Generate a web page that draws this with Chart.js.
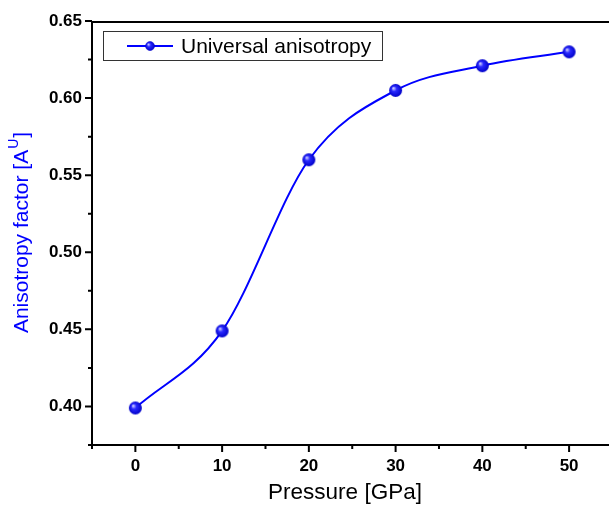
<!DOCTYPE html>
<html>
<head>
<meta charset="utf-8">
<script src="https://cdn.jsdelivr.net/npm/chart.js@4/dist/chart.umd.min.js"></script>
<style>
  html, body { margin: 0; padding: 0; background: #fff; overflow: hidden; }
  #wrap { width: 609px; height: 507px; position: relative; }
  #grafico { display: block; }
</style>
</head>
<body>
<div id="wrap"><canvas id="grafico"></canvas></div>
<script>
const pressure = [0, 10, 20, 30, 40, 50]
const anisotropy = [0.399, 0.449, 0.560, 0.605, 0.621, 0.630]
const xTickValues = [0, 10, 20, 30, 40, 50]
const xMinorTicks = [-5, 5, 15, 25, 35, 45]
const yTickValues = [0.40, 0.45, 0.50, 0.55, 0.60, 0.65]
const yMinorTicks = [0.375, 0.425, 0.475, 0.525, 0.575, 0.625]
const seriesName = 'Universal anisotropy'

const FONT = "'Liberation Sans', Arial, sans-serif"
const BLUE = '#0000ff'

// little shaded ball used as marker
const makeBall = (r) => {
	const c = document.createElement('canvas')
	c.width = c.height = r * 2 + 2
	const g = c.getContext('2d')
	const cx = r + 1
	const grad = g.createRadialGradient(cx - r * 0.35, cx - r * 0.35, 0.5, cx, cx, r)
	grad.addColorStop(0, '#c8c8ff')
	grad.addColorStop(0.35, '#2a2aff')
	grad.addColorStop(1, '#0000c8')
	g.fillStyle = grad
	g.beginPath()
	g.arc(cx, cx, r, 0, Math.PI * 2)
	g.fill()
	return c
}
const ball = makeBall(6.5)

const decoPlugin = {
	id: 'deco',
	afterDraw(chart) {
		const { ctx, chartArea: a, scales: { x, y } } = chart
		ctx.save()
		ctx.strokeStyle = '#000'
		ctx.lineWidth = 2
		ctx.beginPath()
		ctx.moveTo(a.left, a.top + 1)
		ctx.lineTo(a.right, a.top + 1)
		ctx.moveTo(a.left, a.top)
		ctx.lineTo(a.left, a.bottom)
		ctx.lineTo(a.right, a.bottom)
		// ticks
		yTickValues.forEach(v => { const p = y.getPixelForValue(v); ctx.moveTo(a.left - 7, p); ctx.lineTo(a.left, p) })
		yMinorTicks.forEach(v => { const p = y.getPixelForValue(v); ctx.moveTo(a.left - 4, p); ctx.lineTo(a.left, p) })
		xTickValues.forEach(v => { const p = x.getPixelForValue(v); ctx.moveTo(p, a.bottom); ctx.lineTo(p, a.bottom + 7) })
		xMinorTicks.forEach(v => { const p = x.getPixelForValue(v); ctx.moveTo(p, a.bottom); ctx.lineTo(p, a.bottom + 4) })
		ctx.stroke()

		// axis titles
		ctx.fillStyle = '#000'
		ctx.font = '22.5px ' + FONT
		ctx.textAlign = 'center'
		ctx.textBaseline = 'middle'
		ctx.fillText('Pressure [GPa]', 345, 493)

		ctx.save()
		ctx.translate(22, (a.top + a.bottom) / 2)
		ctx.rotate(-Math.PI / 2)
		ctx.fillStyle = BLUE
		ctx.font = '21px ' + FONT
		const t1 = 'Anisotropy factor [A', t2 = 'U', t3 = ']'
		const w1 = ctx.measureText(t1).width
		const w3 = ctx.measureText(t3).width
		ctx.font = '14px ' + FONT
		const w2 = ctx.measureText(t2).width
		let sx = -(w1 + w2 + w3 + 1) / 2
		ctx.textAlign = 'left'
		ctx.font = '21px ' + FONT
		ctx.fillText(t1, sx, 0)
		ctx.font = '14px ' + FONT
		ctx.fillText(t2, sx + w1 + 1, -8)
		ctx.font = '21px ' + FONT
		ctx.fillText(t3, sx + w1 + w2 + 2, 0)
		ctx.restore()

		// legend box
		ctx.strokeStyle = '#333'
		ctx.lineWidth = 1
		ctx.strokeRect(103.5, 31.5, 279, 29)
		ctx.strokeStyle = BLUE
		ctx.lineWidth = 2
		ctx.beginPath()
		ctx.moveTo(127, 46)
		ctx.lineTo(173, 46)
		ctx.stroke()
		ctx.drawImage(ball, 150 - 5.5, 46 - 5.5, 11, 11)
		ctx.fillStyle = '#000'
		ctx.font = '21px ' + FONT
		ctx.textAlign = 'left'
		ctx.fillText(seriesName, 181, 47)
		ctx.restore()
	}
}

new Chart(document.getElementById('grafico'), {
	type: 'line',
	data: {
		datasets: [{
			label: seriesName,
			data: pressure.map((p, i) => ({ x: p, y: anisotropy[i] })),
			borderColor: BLUE,
			backgroundColor: BLUE,
			borderWidth: 2,
			cubicInterpolationMode: 'monotone',
			pointStyle: ball,
			pointRadius: 6,
			clip: false
		}]
	},
	options: {
		responsive: true,
		maintainAspectRatio: false,
		animation: false,
		layout: { autoPadding: false, padding: { top: 21, left: 0, right: 0, bottom: 0 } },
		plugins: { legend: { display: false }, tooltip: { enabled: false } },
		scales: {
			x: {
				type: 'linear',
				min: -5,
				max: 54.6,
				grid: { display: false, drawTicks: false },
				border: { display: false },
				afterFit: (s) => { s.height = 62 },
				afterBuildTicks: (s) => { s.ticks = xTickValues.map(v => ({ value: v })) },
				ticks: {
					padding: 11,
					color: '#000',
					font: { family: FONT, size: 17, weight: 'bold' },
					callback: (v) => v
				}
			},
			y: {
				min: 0.375,
				max: 0.65,
				grid: { display: false, drawTicks: false },
				border: { display: false },
				afterFit: (s) => { s.width = 92 },
				afterBuildTicks: (s) => { s.ticks = yTickValues.map(v => ({ value: v })) },
				ticks: {
					padding: 10,
					color: '#000',
					font: { family: FONT, size: 17, weight: 'bold' },
					callback: (v) => v.toFixed(2)
				}
			}
		}
	},
	plugins: [decoPlugin]
})
</script>
</body>
</html>
